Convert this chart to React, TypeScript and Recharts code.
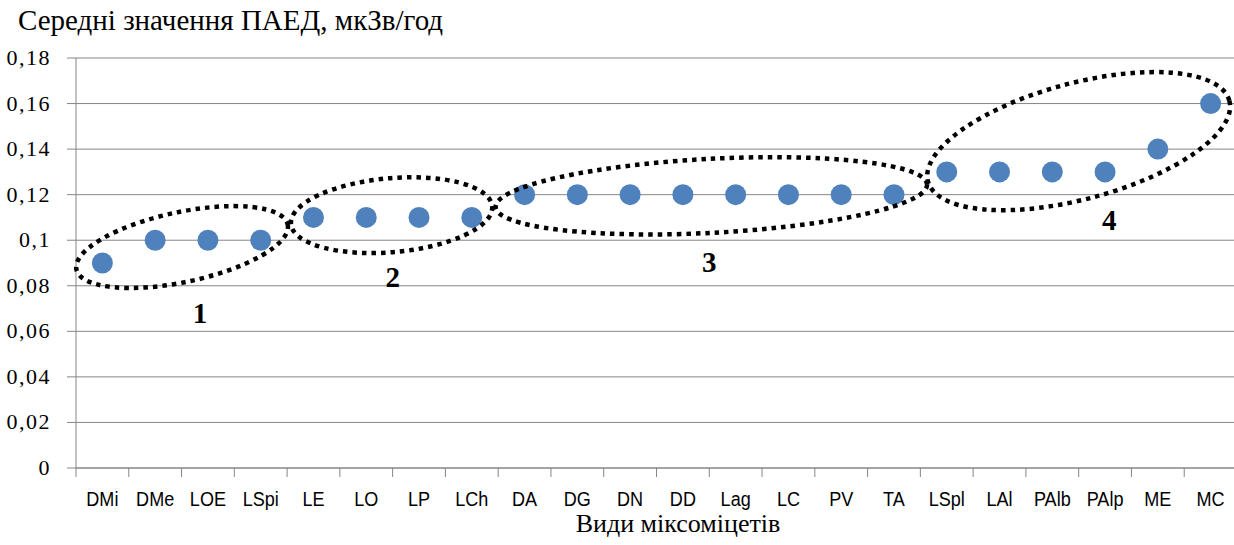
import { ScatterChart, Scatter, XAxis, YAxis, CartesianGrid, ReferenceDot } from "recharts";

const categories = [
  "DMi", "DMe", "LOE", "LSpi", "LE", "LO", "LP", "LCh", "DA", "DG", "DN",
  "DD", "Lag", "LC", "PV", "TA", "LSpl", "LAl", "PAlb", "PAlp", "ME", "MC",
];

const values = [
  0.09, 0.1, 0.1, 0.1, 0.11, 0.11, 0.11, 0.11, 0.12, 0.12, 0.12,
  0.12, 0.12, 0.12, 0.12, 0.12, 0.13, 0.13, 0.13, 0.13, 0.14, 0.16,
];

const yTicks = [0, 0.02, 0.04, 0.06, 0.08, 0.1, 0.12, 0.14, 0.16, 0.18];

// group annotations: centre in data units (category index, value)
const groupNames = ["1", "2", "3", "4"];
const groupCentres = [
  { x: 1.51, y: 0.097 },
  { x: 5.48, y: 0.111 },
  { x: 11.54, y: 0.1195 },
  { x: 18.5, y: 0.1435 },
];
const groupLabelPos = [
  { x: 1.85, y: 0.068 },
  { x: 5.5, y: 0.084 },
  { x: 11.5, y: 0.0905 },
  { x: 19.08, y: 0.109 },
];
const ellipseSize = [
  { rx: 108, ry: 35, angle: -12 },
  { rx: 101, ry: 37, angle: -5 },
  { rx: 216, ry: 37, angle: -3 },
  { rx: 156, ry: 58, angle: -15 },
];

const points = categories.map((name, i) => ({ idx: i, name, value: values[i] }));

// tick values: integers carry labels, halves carry the tick marks between categories
const xTicks: number[] = [];
for (let i = -0.5; i <= categories.length - 0.5; i += 0.5) xTicks.push(i);

const AXIS = "#868686";
const SERIF = "'Liberation Serif', 'Times New Roman', serif";

const XTick = (props: any) => {
  const { x, y, payload } = props;
  const v = payload.value;
  if (Number.isInteger(v)) {
    return (
      <text
        transform={`translate(${x},${y + 38}) scale(0.86,1)`}
        textAnchor="middle"
        fontFamily="'Liberation Sans', Arial, sans-serif"
        fontSize={21}
        fill="#000"
      >
        {categories[v]}
      </text>
    );
  }
  return <line x1={x} x2={x} y1={y} y2={y + 9} stroke={AXIS} strokeWidth={1} />;
};

const fmtY = (v: number) => String(Number(v.toFixed(2))).replace(".", ",");

const YTick = (props: any) => {
  const { x, y, payload } = props;
  return (
    <text
      x={x}
      y={y + 7}
      textAnchor="end"
      fontFamily={SERIF}
      fontSize={22}
      letterSpacing={1.5}
      fill="#000"
    >
      {fmtY(payload.value)}
    </text>
  );
};

export default function App() {
  return (
    <div style={{ position: "absolute", left: 0, top: 0, width: 1234, height: 545, overflow: "hidden", background: "#fff" }}>
      <div
        style={{
          position: "absolute",
          left: 18,
          top: 6,
          fontFamily: SERIF,
          fontSize: 29,
          lineHeight: 1,
          whiteSpace: "nowrap",
        }}
      >
        Середні значення ПАЕД, мкЗв/год
      </div>
      <div
        style={{
          position: "absolute",
          left: 0,
          width: 1356,
          top: 511,
          textAlign: "center",
          fontFamily: SERIF,
          fontSize: 26,
          lineHeight: 1,
          whiteSpace: "nowrap",
        }}
      >
        Види міксоміцетів
      </div>
      <ScatterChart width={1240} height={545} margin={{ top: 58, right: 3, bottom: 27, left: 0 }}>
        <CartesianGrid vertical={false} stroke={AXIS} strokeWidth={1} />
        <XAxis
          type="number"
          dataKey="idx"
          domain={[-0.5, categories.length - 0.5]}
          ticks={xTicks}
          interval={0}
          tick={<XTick />}
          tickLine={false}
          tickSize={0}
          tickMargin={0}
          height={50}
          stroke={AXIS}
          allowDataOverflow
        />
        <YAxis
          type="number"
          dataKey="value"
          domain={[0, 0.18]}
          ticks={yTicks}
          interval={0}
          width={76}
          tickSize={9}
          tickMargin={16}
          stroke={AXIS}
          tick={<YTick />}
        />
        <Scatter
          data={points}
          isAnimationActive={false}
          shape={(p: any) => <circle cx={p.cx} cy={p.cy} r={10.5} fill="#4f81bd" />}
        />
        {groupCentres.map((c, i) => (
          <ReferenceDot
            key={`e-${i}`}
            x={c.x}
            y={c.y}
            ifOverflow="visible"
            shape={(p: any) => (
              <ellipse
                cx={p.cx}
                cy={p.cy}
                rx={ellipseSize[i].rx}
                ry={ellipseSize[i].ry}
                transform={`rotate(${ellipseSize[i].angle} ${p.cx} ${p.cy})`}
                fill="none"
                stroke="#000"
                strokeWidth={4.5}
                strokeDasharray="4.5 5"
              />
            )}
          />
        ))}
        {groupLabelPos.map((c, i) => (
          <ReferenceDot
            key={`l-${i}`}
            x={c.x}
            y={c.y}
            ifOverflow="visible"
            shape={(p: any) => (
              <text
                x={p.cx}
                y={p.cy + 10}
                textAnchor="middle"
                fontFamily={SERIF}
                fontWeight="bold"
                fontSize={29}
                fill="#000"
              >
                {groupNames[i]}
              </text>
            )}
          />
        ))}
      </ScatterChart>
    </div>
  );
}
